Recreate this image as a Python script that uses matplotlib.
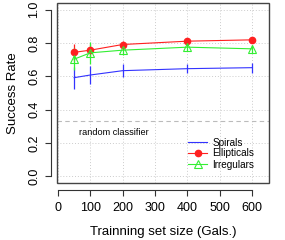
import matplotlib
matplotlib.use("Agg")
import matplotlib.pyplot as plt
from matplotlib.patches import Rectangle

plt.rcParams['font.family'] = ['Liberation Sans', 'DejaVu Sans']

# training set sizes
sizes = [50, 100, 200, 400, 600]

# success rates
spirals = [0.592, 0.608, 0.634, 0.646, 0.652]
spirals_err = [0.065, 0.053, 0.040, 0.028, 0.030]
ellipticals = [0.744, 0.757, 0.791, 0.811, 0.819]
ellipticals_err = [0.05, 0.04, 0.02, 0.012, 0.012]
irregulars = [0.703, 0.741, 0.757, 0.775, 0.765]
irregulars_err = [0.065, 0.065, 0.03, 0.025, 0.025]

random_rate = 1.0 / 3

x_ticks = [0, 100, 200, 300, 400, 500, 600]
y_ticks = [0.0, 0.2, 0.4, 0.6, 0.8, 1.0]

fig = plt.figure(figsize=(2.85, 2.4), dpi=100)
ax = fig.add_axes([0.2, 0.2375, 0.744, 0.75])

ax.set_xlim(-3, 652)
ax.set_ylim(-0.04, 1.04)

# grid
for xt in x_ticks:
	ax.axvline(xt, color='#cccccc', lw=0.7, ls=(0, (1, 2)), zorder=0)
for yt in y_ticks:
	ax.axhline(yt, color='#cccccc', lw=0.7, ls=(0, (1, 2)), zorder=0)

ax.axhline(random_rate, color='#bbbbbb', lw=0.8, ls=(0, (4, 3)), zorder=1)
ax.text(66, 0.265, "random classifier", fontsize=6.6, va='center', ha='left')

# error bars (no legend entry)
ax.errorbar(sizes, spirals, yerr=spirals_err, fmt='none', ecolor='#3333ff',
	elinewidth=0.9, capsize=0)
ax.errorbar(sizes, ellipticals, yerr=ellipticals_err, fmt='none', ecolor='#ff2020',
	elinewidth=0.9, capsize=0)
ax.errorbar(sizes, irregulars, yerr=irregulars_err, fmt='none', ecolor='#33ee33',
	elinewidth=0.9, capsize=0)

ax.plot(sizes, spirals, color='#3333ff', lw=0.8, label="Spirals")
ax.plot(sizes, ellipticals, color='#ff2020', lw=0.8, marker='o', ms=4.5,
	label="Ellipticals")
ax.plot(sizes, irregulars, color='#33ee33', lw=0.8, marker='^', ms=5.5,
	mfc='none', mew=0.8, label="Irregulars")

# axes drawn R style, detached from the box
for side in ['top', 'right']:
	ax.spines[side].set_visible(False)
ax.spines['left'].set_position(('outward', 4))
ax.spines['bottom'].set_position(('outward', 5))
ax.spines['left'].set_bounds(0, 1)
ax.spines['bottom'].set_bounds(0, 600)
for side in ['left', 'bottom']:
	ax.spines[side].set_color('#333333')
	ax.spines[side].set_linewidth(0.8)
ax.add_patch(Rectangle((0, 0), 1, 1, transform=ax.transAxes, fill=False,
	edgecolor='#444444', lw=1.0, zorder=5, clip_on=False))

ax.set_xticks(x_ticks)
ax.set_yticks(y_ticks)
ax.set_yticklabels(["%.1f" % v for v in y_ticks], rotation=90, va='center')
ax.tick_params(labelsize=9, length=4, width=0.8, color='#333333')
ax.tick_params(axis='x', pad=5)
ax.tick_params(axis='y', pad=4)

ax.set_xlabel("Trainning set size (Gals.)", fontsize=9.5, labelpad=8)
ax.set_ylabel("Success Rate", fontsize=9.5, labelpad=7)

ax.legend(loc='lower left', frameon=False, fontsize=7.2, handlelength=1.9,
	handletextpad=0.5, borderpad=0, borderaxespad=0, labelspacing=0.1,
	bbox_to_anchor=(0.62, 0.075))

fig.savefig("out.png", dpi=100)
